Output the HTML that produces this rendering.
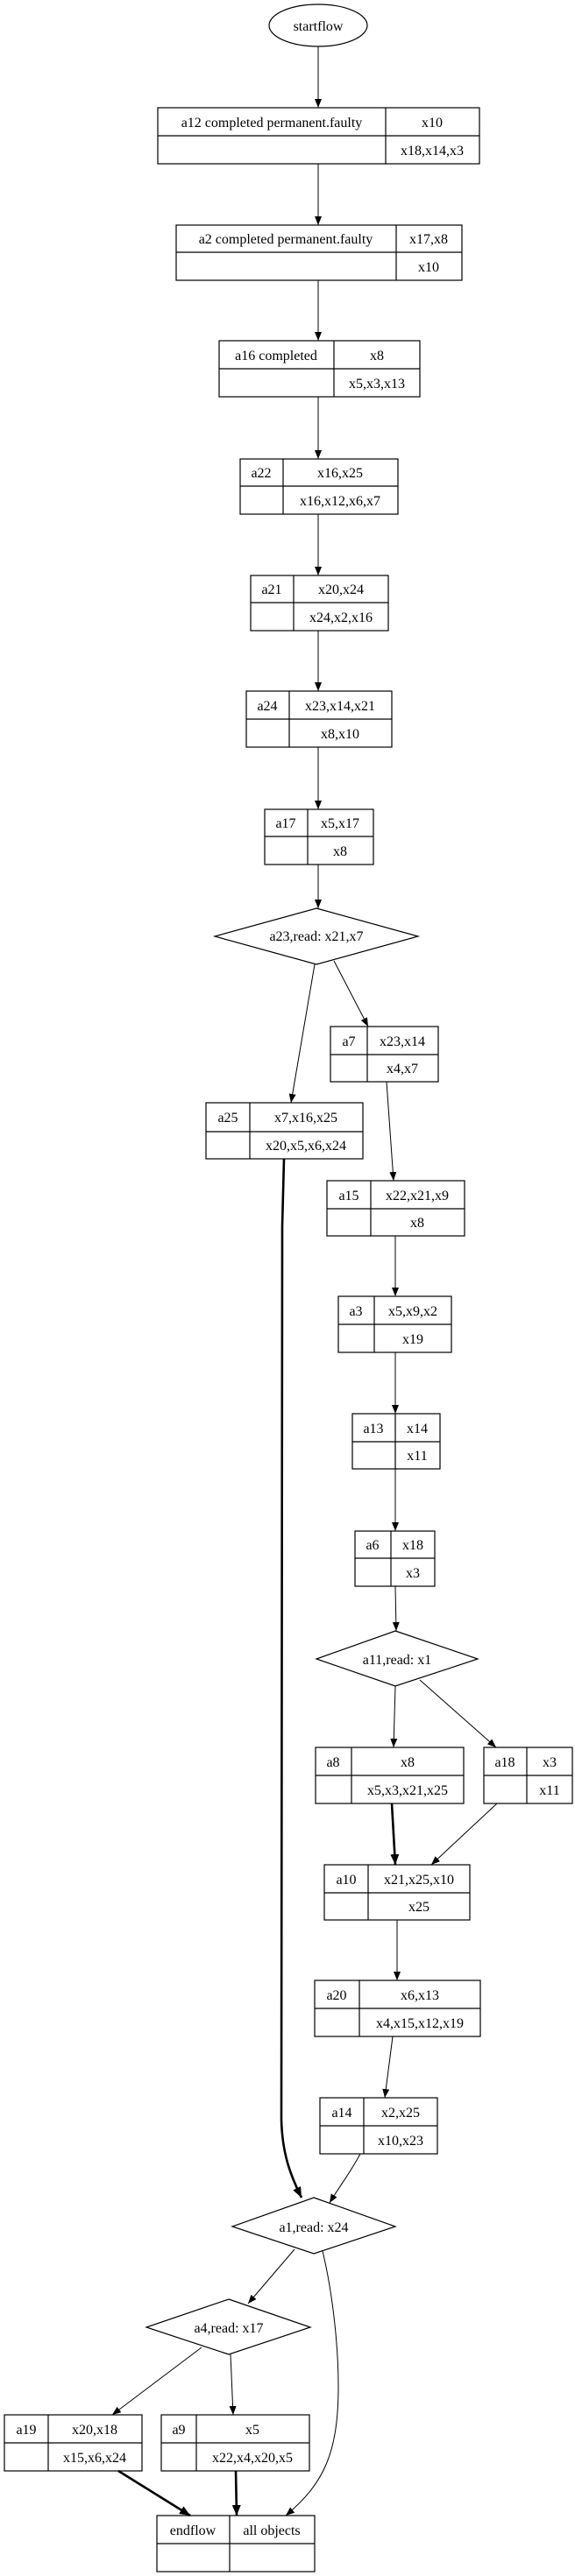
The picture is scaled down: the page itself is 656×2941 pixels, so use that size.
<!DOCTYPE html>
<html><head><meta charset="utf-8">
<style>
html,body{margin:0;padding:0;background:#fff;}
svg{display:block;}
text{font-family:"Liberation Serif",serif;font-size:16px;fill:#000;}
</style></head>
<body>
<svg width="656" height="2941" viewBox="0 0 656 2941" xmlns="http://www.w3.org/2000/svg">
<defs>
<marker id="ar" markerWidth="10" markerHeight="8" refX="10" refY="4" orient="auto" markerUnits="userSpaceOnUse">
<path d="M0,0 L10,4 L0,8 Z" fill="#000"/></marker>
<marker id="arb" markerWidth="12" markerHeight="10" refX="12" refY="5" orient="auto" markerUnits="userSpaceOnUse">
<path d="M0,0 L12,5 L0,10 Z" fill="#000"/></marker>
</defs>
<g fill="none" stroke="#000" stroke-width="1.2">
<!-- startflow -->
<ellipse cx="363" cy="29" rx="56" ry="24"/>
<!-- diamonds -->
<polygon points="361,1037 477,1069 361,1101 245,1069"/>
<polygon points="451,1862 545,1894 451,1925 361,1894"/>
<polygon points="358,2509 451,2542 358,2573 265,2542"/>
<polygon points="261,2625 354,2657 261,2688 167,2657"/>
</g>
<g fill="none" stroke="#000" stroke-width="1.2">
<!-- record boxes: rect, hline, vline -->
<rect x="180" y="123" width="367" height="64"/><line x1="180" y1="155" x2="547" y2="155"/><line x1="440" y1="123" x2="440" y2="187"/>
<rect x="201" y="257" width="326" height="63"/><line x1="201" y1="288" x2="527" y2="288"/><line x1="452" y1="257" x2="452" y2="320"/>
<rect x="250" y="389" width="229" height="64"/><line x1="250" y1="421" x2="479" y2="421"/><line x1="381" y1="389" x2="381" y2="453"/>
<rect x="274" y="524" width="180" height="63"/><line x1="274" y1="555" x2="454" y2="555"/><line x1="323" y1="524" x2="323" y2="587"/>
<rect x="286" y="657" width="157" height="63"/><line x1="286" y1="688" x2="443" y2="688"/><line x1="335" y1="657" x2="335" y2="720"/>
<rect x="281" y="789" width="166" height="64"/><line x1="281" y1="821" x2="447" y2="821"/><line x1="330" y1="789" x2="330" y2="853"/>
<rect x="302" y="924" width="124" height="63"/><line x1="302" y1="955" x2="426" y2="955"/><line x1="351" y1="924" x2="351" y2="987"/>
<rect x="377" y="1172" width="123" height="63"/><line x1="377" y1="1204" x2="500" y2="1204"/><line x1="419" y1="1172" x2="419" y2="1235"/>
<rect x="235" y="1259" width="179" height="64"/><line x1="235" y1="1292" x2="414" y2="1292"/><line x1="285" y1="1259" x2="285" y2="1323"/>
<rect x="373" y="1348" width="157" height="63"/><line x1="373" y1="1380" x2="530" y2="1380"/><line x1="423" y1="1348" x2="423" y2="1411"/>
<rect x="386" y="1480" width="129" height="64"/><line x1="386" y1="1512" x2="515" y2="1512"/><line x1="427" y1="1480" x2="427" y2="1544"/>
<rect x="402" y="1614" width="100" height="63"/><line x1="402" y1="1646" x2="502" y2="1646"/><line x1="451" y1="1614" x2="451" y2="1677"/>
<rect x="405" y="1748" width="91" height="63"/><line x1="405" y1="1779" x2="496" y2="1779"/><line x1="446" y1="1748" x2="446" y2="1811"/>
<rect x="360" y="1995" width="169" height="64"/><line x1="360" y1="2027" x2="529" y2="2027"/><line x1="401" y1="1995" x2="401" y2="2059"/>
<rect x="552" y="1995" width="101" height="64"/><line x1="552" y1="2027" x2="653" y2="2027"/><line x1="601" y1="1995" x2="601" y2="2059"/>
<rect x="370" y="2129" width="166" height="63"/><line x1="370" y1="2161" x2="536" y2="2161"/><line x1="420" y1="2129" x2="420" y2="2192"/>
<rect x="359" y="2261" width="189" height="64"/><line x1="359" y1="2293" x2="548" y2="2293"/><line x1="410" y1="2261" x2="410" y2="2325"/>
<rect x="365" y="2395" width="134" height="64"/><line x1="365" y1="2427" x2="499" y2="2427"/><line x1="415" y1="2395" x2="415" y2="2459"/>
<rect x="5" y="2757" width="157" height="64"/><line x1="5" y1="2789" x2="162" y2="2789"/><line x1="55" y1="2757" x2="55" y2="2821"/>
<rect x="184" y="2757" width="169" height="64"/><line x1="184" y1="2789" x2="353" y2="2789"/><line x1="224" y1="2757" x2="224" y2="2821"/>
<rect x="179" y="2872" width="180" height="64"/><line x1="179" y1="2904" x2="359" y2="2904"/><line x1="262" y1="2872" x2="262" y2="2936"/>
</g>
<!-- thin edges -->
<g fill="none" stroke="#000" stroke-width="1" marker-end="url(#ar)">
<line x1="363" y1="53" x2="363" y2="123"/>
<line x1="363" y1="187" x2="363" y2="257"/>
<line x1="363" y1="320" x2="363" y2="389"/>
<line x1="363" y1="453" x2="363" y2="524"/>
<line x1="363" y1="587" x2="363" y2="657"/>
<line x1="363" y1="720" x2="363" y2="789"/>
<line x1="363" y1="853" x2="363" y2="924"/>
<line x1="363" y1="987" x2="363" y2="1037"/>
<line x1="359" y1="1101" x2="332" y2="1259"/>
<line x1="381" y1="1097" x2="420" y2="1172"/>
<line x1="441" y1="1235" x2="449" y2="1348"/>
<line x1="451" y1="1411" x2="451" y2="1480"/>
<line x1="451" y1="1544" x2="451" y2="1614"/>
<line x1="451" y1="1677" x2="451" y2="1748"/>
<line x1="451" y1="1811" x2="452" y2="1862"/>
<line x1="451" y1="1925" x2="449" y2="1995"/>
<line x1="479" y1="1918" x2="566" y2="1995"/>
<line x1="567" y1="2059" x2="492" y2="2129"/>
<line x1="453" y1="2192" x2="453" y2="2261"/>
<line x1="448" y1="2325" x2="439" y2="2395"/>
<path d="M411,2459 C400,2480 388,2495 376,2515"/>
<line x1="336" y1="2568" x2="283" y2="2630"/>
<path d="M368,2570 C380,2620 386,2680 386,2724 C386,2800 370,2835 326,2872"/>
<line x1="230" y1="2680" x2="128" y2="2757"/>
<line x1="263" y1="2688" x2="266" y2="2757"/>
</g>
<!-- thick edges -->
<g fill="none" stroke="#000" stroke-width="2.6" marker-end="url(#arb)">
<path d="M324,1323 L322,1400 L321,2420 C322,2460 332,2485 344,2509"/>
<line x1="447" y1="2059" x2="451" y2="2129"/>
<line x1="135" y1="2821" x2="217" y2="2872"/>
<line x1="269" y1="2821" x2="270" y2="2872"/>
</g>
<!-- text -->
<g text-anchor="middle">
<text x="363" y="35">startflow</text>
<text x="310" y="145">a12 completed permanent.faulty</text><text x="493" y="145">x10</text><text x="493" y="177">x18,x14,x3</text>
<text x="326" y="278">a2 completed permanent.faulty</text><text x="489" y="278">x17,x8</text><text x="489" y="310">x10</text>
<text x="315" y="411">a16 completed</text><text x="430" y="411">x8</text><text x="430" y="443">x5,x3,x13</text>
<text x="298" y="545">a22</text><text x="388" y="545">x16,x25</text><text x="388" y="577">x16,x12,x6,x7</text>
<text x="310" y="678">a21</text><text x="389" y="678">x20,x24</text><text x="389" y="710">x24,x2,x16</text>
<text x="305" y="811">a24</text><text x="388" y="811">x23,x14,x21</text><text x="388" y="843">x8,x10</text>
<text x="326" y="945">a17</text><text x="388" y="945">x5,x17</text><text x="388" y="977">x8</text>
<text x="361" y="1074">a23,read: x21,x7</text>
<text x="398" y="1194">a7</text><text x="459" y="1194">x23,x14</text><text x="459" y="1225">x4,x7</text>
<text x="260" y="1281">a25</text><text x="349" y="1281">x7,x16,x25</text><text x="349" y="1313">x20,x5,x6,x24</text>
<text x="398" y="1370">a15</text><text x="476" y="1370">x22,x21,x9</text><text x="476" y="1401">x8</text>
<text x="406" y="1502">a3</text><text x="471" y="1502">x5,x9,x2</text><text x="471" y="1534">x19</text>
<text x="426" y="1636">a13</text><text x="476" y="1636">x14</text><text x="476" y="1667">x11</text>
<text x="425" y="1769">a6</text><text x="471" y="1769">x18</text><text x="471" y="1801">x3</text>
<text x="453" y="1900">a11,read: x1</text>
<text x="380" y="2017">a8</text><text x="465" y="2017">x8</text><text x="465" y="2049">x5,x3,x21,x25</text>
<text x="576" y="2017">a18</text><text x="627" y="2017">x3</text><text x="627" y="2049">x11</text>
<text x="395" y="2151">a10</text><text x="478" y="2151">x21,x25,x10</text><text x="478" y="2182">x25</text>
<text x="384" y="2283">a20</text><text x="479" y="2283">x6,x13</text><text x="479" y="2315">x4,x15,x12,x19</text>
<text x="390" y="2417">a14</text><text x="457" y="2417">x2,x25</text><text x="457" y="2449">x10,x23</text>
<text x="358" y="2548">a1,read: x24</text>
<text x="261" y="2663">a4,read: x17</text>
<text x="30" y="2779">a19</text><text x="108" y="2779">x20,x18</text><text x="108" y="2811">x15,x6,x24</text>
<text x="204" y="2779">a9</text><text x="288" y="2779">x5</text><text x="288" y="2811">x22,x4,x20,x5</text>
<text x="220" y="2894">endflow</text><text x="310" y="2894">all objects</text>
</g>
</svg>
</body></html>
